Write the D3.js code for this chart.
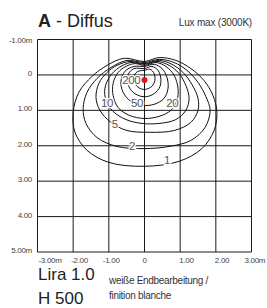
<!DOCTYPE html>
<html><head><meta charset="utf-8">
<script src="https://cdn.jsdelivr.net/npm/d3@7"></script>
<style>html,body{margin:0;padding:0;background:#fff;overflow:hidden}</style>
</head><body>
<svg id="c" width="267" height="308"></svg>
<script>
// ---- data (metres) ----
const xTicks = [-3, -2, -1, 0, 1, 2, 3];
const xTickLabels = ["-3.00m", "-2.00", "-1.00", "0", "1.00", "2.00", "3.00m"];
const yTicks = [-1, 0, 1, 2, 3, 4, 5];
const yTickLabels = ["-1.00m", "0", "1.00", "2.00", "3.00", "4.00", "5.00m"];

const iso1 = [[0,-0.38],[0.41,-0.49],[0.88,-0.41],[1.30,-0.18],[1.67,0.16],[1.92,0.58],[2.03,1.06],[1.95,1.57],[1.61,2.08],[0.97,2.44],[0,2.58],[-1.00,2.47],[-1.61,2.13],[-1.95,1.62],[-2.00,1.06],[-1.84,0.49],[-1.47,0.04],[-1.05,-0.27],[-0.57,-0.47]];
const iso2 = [[0,-0.35],[0.41,-0.44],[0.83,-0.35],[1.19,-0.13],[1.50,0.21],[1.72,0.61],[1.84,1.00],[1.70,1.48],[1.30,1.85],[0.69,2.02],[0,2.08],[-0.77,2.02],[-1.33,1.77],[-1.64,1.37],[-1.72,0.95],[-1.61,0.49],[-1.33,0.10],[-0.94,-0.21],[-0.49,-0.41]];
const iso5 = [[0,-0.32],[0.41,-0.41],[0.77,-0.30],[1.08,-0.07],[1.33,0.27],[1.50,0.66],[1.50,1.00],[1.30,1.34],[0.83,1.57],[0.13,1.62],[-0.49,1.57],[-0.94,1.34],[-1.25,1.00],[-1.36,0.64],[-1.28,0.24],[-1.05,-0.07],[-0.77,-0.27],[-0.41,-0.38]];
const iso10 = [[0,-0.30],[0.35,-0.38],[0.69,-0.27],[0.97,-0.04],[1.16,0.30],[1.25,0.66],[1.16,1.00],[0.88,1.26],[0.41,1.37],[-0.07,1.37],[-0.52,1.26],[-0.88,1.03],[-1.08,0.72],[-1.11,0.38],[-0.97,0.04],[-0.71,-0.21],[-0.38,-0.35]];
const iso20 = [[0,-0.27],[0.32,-0.35],[0.60,-0.24],[0.83,0.01],[0.94,0.38],[0.91,0.72],[0.74,1.00],[0.41,1.17],[0,1.23],[-0.43,1.14],[-0.74,0.92],[-0.88,0.58],[-0.88,0.24],[-0.74,-0.07],[-0.52,-0.24],[-0.27,-0.32]];
const iso50 = [[0,-0.24],[0.27,-0.30],[0.49,-0.18],[0.63,0.07],[0.66,0.38],[0.55,0.66],[0.27,0.83],[-0.07,0.86],[-0.38,0.75],[-0.60,0.49],[-0.66,0.18],[-0.55,-0.10],[-0.29,-0.24]];
const iso100 = [[0,-0.18],[0.21,-0.24],[0.38,-0.13],[0.46,0.13],[0.41,0.38],[0.18,0.58],[-0.07,0.61],[-0.32,0.49],[-0.46,0.27],[-0.46,-0.01],[-0.29,-0.18]];
const iso200 = [[0,-0.13],[0.15,-0.16],[0.27,-0.04],[0.29,0.16],[0.21,0.32],[0.01,0.41],[-0.18,0.35],[-0.29,0.18],[-0.29,0.01],[-0.18,-0.10]];
const isolines = [iso1, iso2, iso5, iso10, iso20, iso50, iso100, iso200];

const labelText = ["200", "50", "20", "10", "5", "2", "1"];
const labelX = [-0.37, -0.21, 0.78, -1.05, -0.83, -0.35, 0.63];
const labelY = [0.13, 0.78, 0.78, 0.78, 1.37, 2.01, 2.41];

const source = [0, 0.14];

// ---- drawing ----
const svg = d3.select("#c");
const x = d3.scaleLinear().domain([-3, 3]).range([37.5, 251.5]);
const y = d3.scaleLinear().domain([-1, 5]).range([39.5, 252]);
const font = "'Liberation Sans', Arial, sans-serif";

// grid
const g = svg.append("g").attr("stroke", "#1a1a1a").attr("stroke-width", 1);
g.selectAll("line.v").data(xTicks).join("line").attr("class", "v")
  .attr("x1", d => x(d)).attr("x2", d => x(d)).attr("y1", y(-1)).attr("y2", y(5));
g.selectAll("line.h").data(yTicks).join("line").attr("class", "h")
  .attr("y1", d => y(d)).attr("y2", d => y(d)).attr("x1", x(-3)).attr("x2", x(3));

// axis labels
svg.selectAll("text.yl").data(yTicks).join("text").attr("class", "yl")
  .attr("x", 32).attr("y", (d, i) => y(d) + (i === 0 ? 3 : 1))
  .attr("text-anchor", "end").attr("font-family", font).attr("font-size", 8)
  .attr("fill", "#444").attr("letter-spacing", -0.3)
  .text((d, i) => yTickLabels[i]);

const xNudge = [1, -2, -6, -2, -1, -1, -7];
svg.selectAll("text.xl").data(xTicks).join("text").attr("class", "xl")
  .attr("x", (d, i) => x(d) + xNudge[i]).attr("y", 263)
  .attr("text-anchor", "start").attr("font-family", font).attr("font-size", 8)
  .attr("fill", "#444").attr("letter-spacing", -0.3)
  .text((d, i) => xTickLabels[i]);

// isolux curves
const line = d3.line().x(d => x(d[0])).y(d => y(d[1])).curve(d3.curveCatmullRomClosed.alpha(0.5));
svg.append("g").selectAll("path").data(isolines).join("path")
  .attr("d", line).attr("fill", "none").attr("stroke", "#111").attr("stroke-width", 1);

// labels with white halo
svg.append("g").selectAll("text").data(labelText).join("text")
  .attr("x", (d, i) => x(labelX[i])).attr("y", (d, i) => y(labelY[i]))
  .attr("dy", "0.36em").attr("text-anchor", "middle")
  .attr("font-family", font).attr("font-size", 11.5).attr("fill", "#555")
  .attr("stroke", "#fff").attr("stroke-width", 2.5).attr("paint-order", "stroke")
  .attr("letter-spacing", -0.3)
  .text(d => d);

// source point
svg.append("circle").attr("cx", x(source[0])).attr("cy", y(source[1])).attr("r", 3).attr("fill", "#e3131b");

// header
const t = svg.append("text").attr("x", 38).attr("y", 27).attr("font-family", font).attr("font-size", 18).attr("fill", "#222");
t.append("tspan").attr("font-weight", "bold").text("A");
t.append("tspan").attr("font-weight", 300).text(" - Diffus");
svg.append("text").attr("x", 252).attr("y", 26).attr("text-anchor", "end").attr("font-family", font)
  .attr("font-size", 10).attr("fill", "#333").attr("letter-spacing", -0.2).text("Lux max (3000K)");

// footer
svg.append("text").attr("x", 38).attr("y", 280).attr("font-family", font).attr("font-size", 17).attr("fill", "#222").text("Lira 1.0");
svg.append("text").attr("x", 38).attr("y", 304).attr("font-family", font).attr("font-size", 17).attr("fill", "#222").text("H 500");
svg.append("text").attr("x", 109).attr("y", 284).attr("font-family", font).attr("font-size", 10).attr("fill", "#333").attr("letter-spacing", -0.3).text("weiße Endbearbeitung /");
svg.append("text").attr("x", 109).attr("y", 299).attr("font-family", font).attr("font-size", 10).attr("fill", "#333").attr("letter-spacing", -0.3).text("finition blanche");
</script>
</body></html>
